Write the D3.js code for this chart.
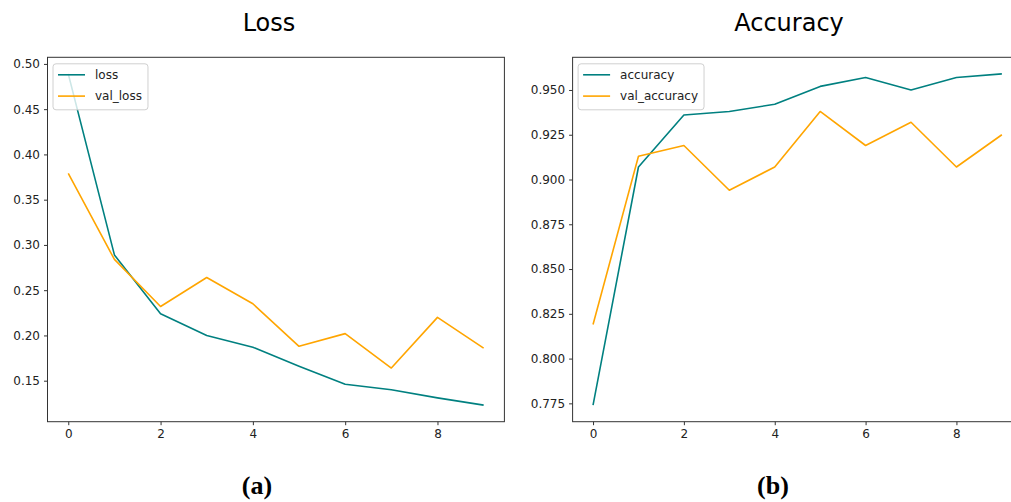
<!DOCTYPE html>
<html>
<head>
<meta charset="utf-8">
<script src="https://cdn.jsdelivr.net/npm/d3@7"></script>
<style>
  html, body { margin: 0; padding: 0; background: #fff; }
  svg { display: block; }
  text { font-family: "DejaVu Sans", sans-serif; fill: #222; }
</style>
</head>
<body>
<div id="chart"></div>
<script>
const epochs = [0, 1, 2, 3, 4, 5, 6, 7, 8, 9];

const loss = [0.489, 0.289, 0.224, 0.200, 0.187, 0.166, 0.146, 0.140, 0.131, 0.123];
const valLoss = [0.379, 0.284, 0.232, 0.264, 0.235, 0.188, 0.202, 0.164, 0.220, 0.186];

const accuracy = [0.774, 0.907, 0.936, 0.938, 0.942, 0.952, 0.957, 0.950, 0.957, 0.959];
const valAccuracy = [0.819, 0.913, 0.919, 0.894, 0.907, 0.938, 0.919, 0.932, 0.907, 0.925];

const lossTicks = [0.15, 0.20, 0.25, 0.30, 0.35, 0.40, 0.45, 0.50];
const accTicks = [0.775, 0.800, 0.825, 0.850, 0.875, 0.900, 0.925, 0.950];
const epochTicks = [0, 2, 4, 6, 8];

const width = 1011;
const height = 502;
const teal = "#008080";
const orange = "#ffa500";

const svg = d3.select("#chart")
  .append("svg")
  .attr("width", width)
  .attr("height", height);

// matplotlib-style 5% auto margins
const padDomain = (vals) => {
  const lo = d3.min(vals), hi = d3.max(vals);
  const m = (hi - lo) * 0.05;
  return [lo - m, hi + m];
};

const panels = [
  {
    title: "Loss", titleX: 269, label: "(a)", labelX: 257,
    left: 47.5, right: 504.4,
    series: [{ name: "loss", values: loss, color: teal },
             { name: "val_loss", values: valLoss, color: orange }],
    ticks: lossTicks, fmt: d3.format(".2f")
  },
  {
    title: "Accuracy", titleX: 789, label: "(b)", labelX: 773,
    left: 572.6, right: 1022.3,
    series: [{ name: "accuracy", values: accuracy, color: teal },
             { name: "val_accuracy", values: valAccuracy, color: orange }],
    ticks: accTicks, fmt: d3.format(".3f")
  }
];

const plotTop = 57.3;
const plotBottom = 421.7;

panels.forEach((p) => {
  const x = d3.scaleLinear().domain(padDomain(epochs)).range([p.left, p.right]);
  const allVals = p.series.flatMap((s) => s.values);
  const y = d3.scaleLinear().domain(padDomain(allVals)).range([plotBottom, plotTop]);

  const g = svg.append("g");

  // title
  svg.append("text")
    .attr("x", p.titleX)
    .attr("y", 31)
    .attr("text-anchor", "middle")
    .style("font-size", "24px")
    .style("fill", "#000")
    .text(p.title);

  // sub label
  svg.append("text")
    .attr("x", p.labelX)
    .attr("y", 494)
    .attr("text-anchor", "middle")
    .style("font-family", "'Liberation Serif', 'Times New Roman', serif")
    .style("font-weight", "bold")
    .style("font-size", "26px")
    .style("fill", "#000")
    .text(p.label);

  // lines
  const line = d3.line()
    .x((d, i) => x(epochs[i]))
    .y((d) => y(d));

  p.series.forEach((s) => {
    g.append("path")
      .datum(s.values)
      .attr("fill", "none")
      .attr("stroke", s.color)
      .attr("stroke-width", 1.6)
      .attr("stroke-linejoin", "round")
      .attr("d", line);
  });

  // axes
  const xAxis = g.append("g")
    .attr("transform", `translate(0,${plotBottom})`)
    .call(d3.axisBottom(x).tickValues(epochTicks).tickSize(3.5).tickPadding(4).tickFormat(d3.format("d")));
  const yAxis = g.append("g")
    .attr("transform", `translate(${p.left},0)`)
    .call(d3.axisLeft(y).tickValues(p.ticks).tickSize(3.5).tickPadding(4).tickFormat(p.fmt));

  [xAxis, yAxis].forEach((a) => {
    a.select(".domain").remove();
    a.selectAll(".tick line").attr("stroke", "#333");
    a.selectAll(".tick text")
      .style("font-family", "'DejaVu Sans', sans-serif")
      .style("font-size", "12px")
      .attr("fill", "#222");
  });

  // frame
  g.append("rect")
    .attr("x", p.left)
    .attr("y", plotTop)
    .attr("width", p.right - p.left)
    .attr("height", plotBottom - plotTop)
    .attr("fill", "none")
    .attr("stroke", "#333")
    .attr("stroke-width", 1);

  // legend
  const lg = g.append("g").attr("transform", `translate(${p.left + 5.5},${plotTop + 6.5})`);
  const box = lg.append("rect")
    .attr("rx", 3)
    .attr("fill", "#fff")
    .attr("fill-opacity", 0.8)
    .attr("stroke", "#d0d0d0");

  let maxW = 0;
  p.series.forEach((s, i) => {
    const cy = 11 + i * 21.3;
    lg.append("line")
      .attr("x1", 5).attr("x2", 32)
      .attr("y1", cy).attr("y2", cy)
      .attr("stroke", s.color)
      .attr("stroke-width", 1.6);
    const t = lg.append("text")
      .attr("x", 42)
      .attr("y", cy + 4.3)
      .style("font-size", "12px")
      .text(s.name);
    maxW = Math.max(maxW, t.node().getComputedTextLength());
  });
  box.attr("width", 42 + maxW + 6).attr("height", 46);
});
</script>
</body>
</html>
